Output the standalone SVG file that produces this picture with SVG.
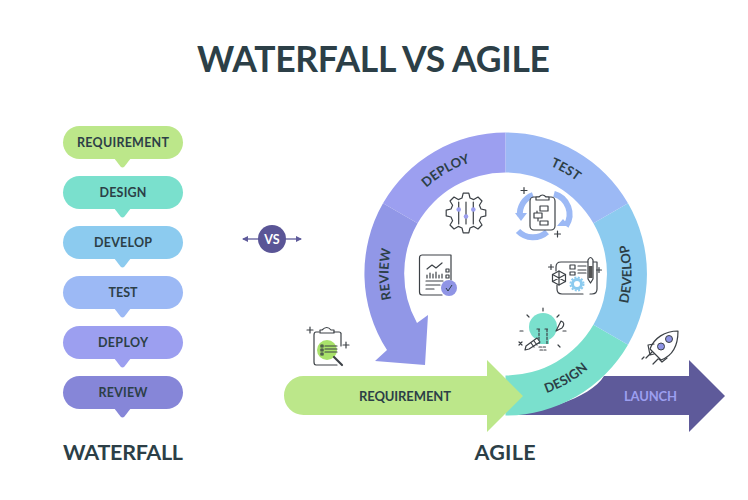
<svg xmlns="http://www.w3.org/2000/svg" width="748" height="500" viewBox="0 0 748 500">
<style>
text{font-family:"Lato","Liberation Sans",sans-serif;font-weight:700;fill:#2c3f47}
.p{font-size:12.500px;text-anchor:middle}
.r{font-size:13px;text-anchor:middle;letter-spacing:.15px}
.i{fill:none;stroke:#3c4146;stroke-width:1.200;stroke-linecap:round;stroke-linejoin:round}
</style>
<defs>
<path id="cwTop" d="M388.500 274A117 117 0 0 1 622.500 274"/>
<path id="cwLeft" d="M505.500 391A117 117 0 0 1 505.500 157"/>
<path id="ccwBot" d="M379.500 274A126 126 0 0 0 631.500 274"/>
<path id="ccwRight" d="M505.500 400A126 126 0 0 0 505.500 148"/>
<marker id="ah" markerWidth="7" markerHeight="7" refX="5" refY="3" orient="auto-start-reverse" markerUnits="userSpaceOnUse"><path d="M0 0L6 3L0 6Z" fill="#5e5a9a"/></marker>
</defs>
<rect width="748" height="500" fill="#fff"/>
<text x="373.500" y="72" text-anchor="middle" font-size="35.500" textLength="353" lengthAdjust="spacing">WATERFALL VS AGILE</text>

<g id="waterfall">
<g id="pill-requirement"><path d="M114 158L120.500 166.500Q122.500 168.500 124.500 166.500L131 158Z" fill="#bce78a"/><rect x="63" y="126" width="120" height="33" rx="16.500" fill="#bce78a"/><text class="p" x="123" y="146.500" textLength="92" lengthAdjust="spacing">REQUIREMENT</text></g>
<g id="pill-design"><path d="M114 208L120.500 216.500Q122.500 218.500 124.500 216.500L131 208Z" fill="#7ae0cd"/><rect x="63" y="176" width="120" height="33" rx="16.500" fill="#7ae0cd"/><text class="p" x="123" y="197" textLength="47" lengthAdjust="spacing">DESIGN</text></g>
<g id="pill-develop"><path d="M114 258L120.500 266.500Q122.500 268.500 124.500 266.500L131 258Z" fill="#8ccbef"/><rect x="63" y="226" width="120" height="33" rx="16.500" fill="#8ccbef"/><text class="p" x="123" y="247" textLength="58" lengthAdjust="spacing">DEVELOP</text></g>
<g id="pill-test"><path d="M114 308L120.500 316.500Q122.500 318.500 124.500 316.500L131 308Z" fill="#9cb9f5"/><rect x="63" y="276" width="120" height="33" rx="16.500" fill="#9cb9f5"/><text class="p" x="123" y="297" textLength="29" lengthAdjust="spacing">TEST</text></g>
<g id="pill-deploy"><path d="M114 358L120.500 366.500Q122.500 368.500 124.500 366.500L131 358Z" fill="#9c9ff0"/><rect x="63" y="326" width="120" height="33" rx="16.500" fill="#9c9ff0"/><text class="p" x="123" y="347" textLength="50" lengthAdjust="spacing">DEPLOY</text></g>
<g id="pill-review"><path d="M114 408L120.500 416.500Q122.500 418.500 124.500 416.500L131 408Z" fill="#8686d8"/><rect x="63" y="376" width="120" height="33" rx="16.500" fill="#8686d8"/><text class="p" x="123" y="397" textLength="49" lengthAdjust="spacing">REVIEW</text></g>
<text x="123" y="460" text-anchor="middle" font-size="21.500" textLength="120" lengthAdjust="spacing">WATERFALL</text>
</g>

<g id="connectors">
<path d="M272 239H243" stroke="#5e5a9a" stroke-width="1.300" fill="none" marker-end="url(#ah)"/>
<path d="M272 239H301" stroke="#5e5a9a" stroke-width="1.300" fill="none" marker-end="url(#ah)"/>
</g>
<g id="vs"><circle cx="272" cy="239" r="14" fill="#5a5596"/><text x="272" y="243.500" text-anchor="middle" font-size="12.500" style="fill:#fff">VS</text></g>

<g id="agile">
<g id="launch"><path d="M505 415C530 415 590 400 604 376H689V360L725 396L689 432V415Z" fill="#5e5a9a"/><text x="650.500" y="400.500" text-anchor="middle" font-size="13" textLength="53" lengthAdjust="spacing" style="fill:#9c9ff0">LAUNCH</text></g>
<g id="seg-design"><path d="M505.500 415.500A141.500 141.500 0 0 0 628 344.750L593.400 324.750A101.500 101.500 0 0 1 505.500 375.500Z" fill="#7ae0cd"/><text class="r"><textPath href="#ccwBot" startOffset="66.700%">DESIGN</textPath></text></g>
<g id="seg-develop"><path d="M628 344.750A141.500 141.500 0 0 0 628 203.250L593.400 223.250A101.500 101.500 0 0 1 593.400 324.750Z" fill="#8ccbef"/><text class="r"><textPath href="#ccwRight" startOffset="50%">DEVELOP</textPath></text></g>
<g id="seg-test"><path d="M628 203.250A141.500 141.500 0 0 0 505.500 132.500V172.500A101.500 101.500 0 0 1 593.400 223.250Z" fill="#9cb9f5"/><text class="r"><textPath href="#cwTop" startOffset="66.700%">TEST</textPath></text></g>
<g id="seg-deploy"><path d="M505.500 132.500A141.500 141.500 0 0 0 383 203.250L417.600 223.250A101.500 101.500 0 0 1 505.500 172.500Z" fill="#9c9ff0"/><text class="r"><textPath href="#cwTop" startOffset="33.300%">DEPLOY</textPath></text></g>
<g id="seg-review"><path d="M383 203.250A141.500 141.500 0 0 0 387 350L375 361L425 365L428 315L417 323A101.500 101.500 0 0 1 417.600 223.250Z" fill="#9197e7"/><text class="r"><textPath href="#cwLeft" startOffset="50%">REVIEW</textPath></text></g>
<g id="requirement"><path d="M303.500 376H487V360L523 396L487 432V415H303.500A19.500 19.500 0 0 1 303.500 376Z" fill="#bce78a"/><text x="405" y="400.500" text-anchor="middle" font-size="13" textLength="92" lengthAdjust="spacing">REQUIREMENT</text></g>
<text x="505" y="460" text-anchor="middle" font-size="21.500" textLength="61" lengthAdjust="spacing">AGILE</text>
</g>

<g id="icon-gear" transform="translate(466 213)">
<polygon class="i" points="19.800,-2.800 19.800,2.800 15,4 13.400,7.750 16,12 12,16 7.750,13.400 4,15 2.800,19.800 -2.800,19.800 -4,15 -7.750,13.400 -12,16 -16,12 -13.400,7.750 -15,4 -19.800,2.800 -19.800,-2.800 -15,-4 -13.400,-7.750 -16,-12 -12,-16 -7.750,-13.400 -4,-15 -2.800,-19.800 2.800,-19.800 4,-15 7.750,-13.400 12,-16 16,-12 13.400,-7.750 15,-4"/>
<path class="i" d="M-7.300 -11V11M0 -11V11M7.300 -11V11"/>
<circle cx="-7.300" cy="-3.500" r="2.300" fill="#9c9ff0"/><circle cx="0" cy="3.500" r="2.300" fill="#9c9ff0"/><circle cx="7.300" cy="-3.500" r="2.300" fill="#9c9ff0"/>
</g>

<g id="icon-test">
<path d="M520 216A20 20 0 0 1 533 195M554 194A21 21 0 0 1 566 226" fill="none" stroke="#9cb9f5" stroke-width="6"/>
<path d="M518 231A21 21 0 0 0 547 232" fill="none" stroke="#9cb9f5" stroke-width="6"/>
<path d="M515 213H527L521 221Z M557 226H569L563 219Z" fill="#9cb9f5"/>
<rect class="i" x="530" y="197" width="25" height="33" rx="4" style="fill:#fff"/>
<path class="i" style="fill:#fff" d="M536 200V197H539Q542.500 193 546 197H549V200Z"/>
<path class="i" d="M540 206H548V211H540ZM534 213H542V218H534ZM540 221H548V225H540ZM537 211V213M538 218V221"/>
<path class="i" d="M524 187.500V193.500M521 190.500H527M557.500 231V237M554.500 234H560.500"/>
</g>

<g id="icon-review">
<path class="i" d="M422 255H451V280M442 295H422Q419.500 295 419.500 292V258Q419.500 255 422 255"/>
<path class="i" d="M427 269L432 265L436 268L442 263M427 278V275M430 278V273M433 278V274M436 278V272M439 278V275M442 278V274M426 281H443M426 285H440M426 289H434M446 269H449V272H446ZM446 275H449V278H446Z"/>
<circle cx="449" cy="288" r="8" fill="#8f94e5"/>
<path d="M446 288L448 291L452 285" fill="none" stroke="#2c3f47" stroke-width="1"/>
</g>

<g id="icon-develop">
<path class="i" d="M556 271V267Q556 262 561 262H597M597 262V289Q597 294 592 294H590M583 294H562Q557 294 557 289V285"/>
<polygon class="i" points="559,271 565.500,274.500 565.500,281.500 559,285 552.500,281.500 552.500,274.500" style="fill:#fff"/>
<path class="i" d="M559 271V285M552.500 274.500L565.500 281.500M565.500 274.500L552.500 281.500"/>
<path class="i" d="M570 265H575V269H570ZM570 272H575V275H570ZM578 266H586M578 270H586M578 273H586"/>
<circle cx="577" cy="284" r="4.500" fill="none" stroke="#8ccbef" stroke-width="3"/>
<circle cx="577" cy="284" r="6.500" fill="none" stroke="#8ccbef" stroke-width="2" stroke-dasharray="2 1.400"/>
<path class="i" style="fill:#fff" d="M588 260Q590.500 255 593 260V279L590.500 283L588 279Z"/>
<path d="M588.500 266H592.500V278H588.500Z" fill="#555"/>
<path class="i" d="M548.500 267H553.500M551 264.500V269.500M596.500 270H601.500M599 267.500V272.500"/>
</g>

<g id="icon-idea">
<circle cx="543" cy="327" r="14" fill="#7ae0cd"/>
<path d="M537 338H549V344H537Z" fill="#7ae0cd"/>
<path class="i" d="M539 347H547M540 350H546M539 329V344M547 329V344M537 329H541M545 329H549" stroke-dasharray="2.500 1.500"/>
<path class="i" d="M543 308V311M527 315L529 317M559 315L557 317M520 331H523M563 331H566M558 345L560 347M519 342L522 345M522 342L519 345"/>
<path class="i" style="fill:#fff" d="M526 346L537 338L540 342L529 349L525 350Z"/>
<path class="i" d="M534 341L537 345M531 343L534 347"/>
<path class="i" style="fill:#fff" d="M556 331L561 321Q566 323 562 328Z"/>
</g>

<g id="icon-rocket">
<path class="i" style="fill:#fff" d="M678 331C665 331 654 338 650 349L661 360C672 356 678 346 678 331Z"/>
<path class="i" d="M654 344L648 345L650 355L654 354M659 359L662 362L667 358M646 358L652 352M642 359L644 357M653 364L658 359"/>
<circle cx="669" cy="339" r="3.500" fill="#8f94e5" stroke="#3c4146"/><circle cx="661" cy="346.500" r="3.500" fill="#8f94e5" stroke="#3c4146"/>
</g>

<g id="icon-requirement">
<path class="i" d="M319 332H316Q314 332 314 335V362Q314 365 316 365H337M341 333V346M334 332H339Q341 332 341 334"/>
<path class="i" d="M320 333V330H322Q327 325 331 330H334V333Z"/>
<circle cx="327" cy="350" r="10" fill="#a9e26b"/>
<path class="i" d="M325 346H337M325 349H337M325 352H337M321 345H323V347H321ZM321 349H323V351H321ZM321 353H323V355H321Z" stroke-width="1"/>
<path d="M334 357L342 365" stroke="#3c4146" stroke-width="2.200" stroke-linecap="round"/>
<path class="i" d="M307 330H313M310 327V333M343 345H349M346 342V348"/>
</g>
</svg>
